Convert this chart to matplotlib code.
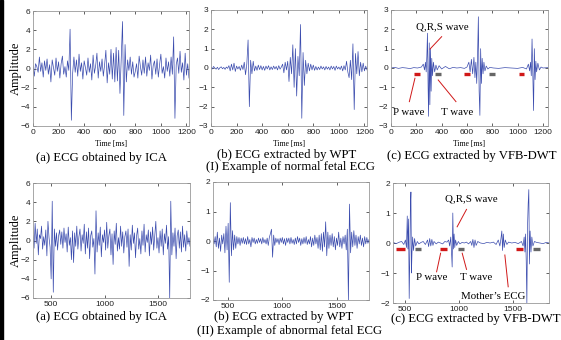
import numpy as np
import matplotlib
matplotlib.use("Agg")
import matplotlib.pyplot as plt
from matplotlib.patches import Rectangle

W, H = 561, 340

# ---- (I) normal fetal ECG ----
t_norm = np.arange(0, 1221, 10)
ica_norm = [
    0.3, -0.8, 0.5, 0.2, -0.4, 1.2, -0.3, 0.6, -0.9, 0.8,
    -0.2, 1.0, -0.6, 0.4, -1.4, 0.9, 0.1, -0.7, 1.1, -0.3,
    0.7, -1.0, 0.5, 1.3, -0.6, 0.2, -0.9, 0.8, -0.2, 4.1,
    -5.4, -0.5, 1.2, -0.4, 0.9, -0.8, 1.5, -0.3, 0.6, -1.1,
    0.8, 0.1, -0.7, 1.1, -0.4, 0.5, -1.2, 1.4, -0.5, 0.3,
    1.6, -1.0, 0.7, -0.3, 1.0, -0.8, 0.4, 1.9, -1.5, 0.6,
    -0.6, 2.0, -1.1, 1.6, -1.4, 2.2, -1.3, 1.9, -2.6, 1.0,
    4.9, -4.9, 2.5, -1.4, 0.9, -0.2, 1.2, -0.6, 0.7, -0.9,
    -0.3, 0.5, -1.0, 1.3, 0.2, -0.7, 0.9, -0.5, 1.2, -0.8,
    0.6, -0.2, 1.4, -1.1, 0.3, 0.8, -0.6, 1.0, -0.9, 0.4,
    1.5, -0.5, 0.2, -1.0, 1.1, -0.3, 0.7, -0.8, 1.2, -0.6,
    3.3, -5.2, 0.4, 1.1, -0.5, 1.8, -0.4, 0.6, -1.2, 1.6,
    -0.7, 0.5, -1.0,
]
wpt_norm = [
    0.05, -0.05, 0.08, 0.0, -0.06, 0.04, -0.08, 0.02, 0.06, -0.04,
    0.03, -0.07, 0.05, -0.02, 0.12, -0.15, 0.20, -0.10, 0.25, -0.18,
    0.10, -0.05, 0.08, -0.12, 0.15, -0.08, 0.30, -0.35, 0.20, 1.45,
    -2.0, 0.40, -0.30, 0.35, -0.15, 0.10, -0.12, 0.15, -0.08, 0.12,
    -0.10, 0.08, -0.12, 0.10, -0.05, 0.12, -0.10, 0.06, -0.08, 0.10,
    -0.05, 0.08, -0.10, 0.12, -0.06, 0.05, 0.20, -0.25, 0.30, -0.10,
    0.35, -0.70, 0.55, -0.30, 1.20, -1.00, 1.00, -1.45, 0.60, -0.40,
    2.25, -2.6, 0.8, -0.9, 0.4, -0.3, 0.25, -0.15, 0.2, -0.1,
    0.15, -0.12, 0.08, -0.10, 0.05, -0.08, 0.10, -0.05, 0.06, -0.1,
    0.08, -0.06, 0.05, -0.1, 0.1, -0.05, 0.08, -0.12, 0.1, -0.05,
    0.05, -0.08, 0.1, -0.15, 0.12, -0.1, 0.35, -0.2, -0.5, 0.4,
    -0.6, 1.25, -2.15, 0.75, -0.3, 0.85, -0.4, 0.3, -0.2, 0.25,
    -0.15, 0.1, -0.1,
]
t_vfb_norm = [
    0, 30, 60, 90, 120, 150, 180, 210, 240, 255, 265, 272, 278, 283, 288,
    293, 297, 302, 307, 312, 317, 322, 328, 335, 345, 355, 365, 380, 400,
    430, 460, 490, 520, 550, 580, 600, 615, 625, 635, 645, 655, 663, 670,
    677, 684, 690, 696, 702, 708, 714, 720, 727, 734, 742, 752, 765, 780,
    810, 850, 900, 950, 1000, 1040, 1070, 1085, 1095, 1102, 1108, 1114,
    1120, 1126, 1132, 1138, 1144, 1150, 1160, 1172, 1185, 1200, 1240,
]
vfb_norm = [
    0.0, 0.03, -0.02, 0.02, 0.0, -0.03, 0.02, 0.0, 0.05, 0.2, -0.1, 0.3,
    -0.2, 0.6, 1.8, -1.0, -2.5, 1.3, -1.9, 1.0, -1.2, 0.5, -0.4, 0.3, -0.2,
    0.15, -0.1, 0.12, -0.05, 0.08, -0.04, 0.03, 0.0, 0.02, -0.02, 0.05, 0.3,
    -0.2, 0.45, -0.3, 0.55, -0.5, 0.3, -0.8, 0.7, 2.65, -1.2, -2.45, 1.0,
    -0.8, 0.5, -0.3, 0.3, -0.15, 0.1, -0.05, 0.03, 0.0, -0.02, 0.02, 0.0,
    -0.02, 0.03, -0.05, 0.2, -0.15, 0.3, -0.4, 1.5, -0.3, -2.2, 1.0, -0.6,
    0.35, -0.2, 0.25, -0.1, 0.05, 0.0, 0.02,
]

# ---- (II) abnormal fetal ECG ----
t_ica_abn = np.arange(330, 1801, 10)
ica_abn = [
    0.5, -0.8, 1.8, -0.3, 1.2, -1.5, 0.6, 0.2, 1.5, -0.9,
    0.4, -0.5, 1.1, -1.6, 2.0, 0.3, -0.7, -4.0, 4.1, -5.4,
    1.2, -0.6, 0.8, -1.0, 0.5, 1.1, -0.4, 0.9, -0.8, 1.3,
    -0.2, 0.7, -1.2, 1.4, -0.5, 0.3, -2.0, 1.0, -2.3, 0.8,
    -0.6, 1.5, -0.9, 0.4, 1.2, -1.1, 0.6, -0.3, 1.7, -1.4,
    0.9, -0.8, 1.3, -1.9, 0.5, 1.0, -0.7, 0.2, -3.5, 3.1,
    -1.2, 0.8, -0.5, 1.4, -1.7, 0.6, -0.2, 1.1, -1.0, 1.9,
    -0.8, 0.5, 1.2, -1.5, 0.7, -2.5, 1.0, -0.4, 1.8, -1.1,
    0.3, -0.9, 1.5, -0.6, 0.9, -1.3, 0.4, 1.0, -0.7, 1.2,
    -2.7, 0.6, -1.0, 1.6, -0.3, 0.8, -1.8, 0.5, 1.3, -0.9,
    0.2, -1.4, 1.0, -0.5, 1.7, -1.2, 0.6, -0.2, 1.1, -1.6,
    0.9, -0.4, 1.4, -1.0, 0.5, 2.0, -0.8, 0.3, -1.3, 1.0,
    -0.6, 1.2, -1.5, 0.7, -0.3, 1.6, -0.9, 0.4, -6.0, 4.1,
    -1.5, 0.8, -0.6, 1.3, -1.9, 0.5, 1.1, -0.8, 0.9, -1.2,
    1.5, -0.7, 0.6, -1.1, 1.0, -0.4, 0.3, -0.6,
]
t_wpt_abn = np.arange(360, 1801, 10)
wpt_abn = [
    0.05, -0.1, 0.15, -0.2, 0.3, -0.25, 0.1, -0.35, 0.2, -0.1,
    0.25, -0.4, 0.5, -0.3, 0.6, -1.4, 1.3, -0.5, 0.35, -0.3,
    0.2, -0.25, 0.15, -0.1, 0.12, -0.15, 0.1, -0.08, 0.12, -0.1,
    0.08, -0.12, 0.15, -0.1, 0.05, -0.2, 0.12, -0.05, 0.1, -0.1,
    0.05, -0.08, 0.1, -0.05, 0.08, -0.1, 0.12, -0.06, 0.05, -0.1,
    0.1, -0.15, 0.12, 0.25, 0.4, -0.55, 0.2, -0.15, 0.1, -0.05,
    0.08, -0.12, 0.1, -0.05, 0.12, -0.1, 0.08, -0.15, 0.1, -0.05,
    0.1, -0.1, 0.12, -0.08, 0.05, -0.12, 0.1, -0.1, 0.15, -0.05,
    0.1, -0.15, 0.08, -0.1, 0.12, -0.08, 0.15, -0.12, 0.05, -0.1,
    0.15, -0.2, 0.1, -0.15, 0.2, -0.1, 0.12, -0.25, 0.2, -0.3,
    0.25, -0.35, 0.3, -0.2, 0.65, -0.5, 0.3, -0.25, 0.2, -0.15,
    0.25, -0.2, 0.15, -0.3, 0.1, -0.15, 0.3, -0.2, 0.1, -0.25,
    0.15, -0.1, 0.2, -0.3, 0.4, -2.0, 1.25, -0.4, 0.3, -0.2,
    0.35, -0.15, 0.2, -0.25, 0.15, -0.1, 0.2, -0.15, 0.1, -0.2,
    0.15, -0.1, 0.12, -0.08, 0.05,
]
t_vfb_abn = [
    390, 420, 450, 470, 490, 505, 515, 522, 528, 534, 540, 546, 551, 556,
    561, 566, 572, 580, 590, 600, 615, 630, 650, 670, 690, 710, 720, 730,
    740, 750, 760, 770, 790, 810, 830, 850, 870, 890, 905, 915, 925, 932,
    938, 944, 950, 956, 962, 970, 980, 995, 1010, 1030, 1050, 1070, 1090,
    1110, 1120, 1130, 1140, 1150, 1160, 1175, 1200, 1230, 1260, 1290, 1320,
    1345, 1365, 1380, 1390, 1398, 1405, 1412, 1420, 1430, 1445, 1460, 1490,
    1520, 1550, 1580, 1595, 1605, 1612, 1618, 1624, 1630, 1636, 1642, 1648,
    1654, 1660, 1668, 1676, 1686, 1700, 1720, 1750, 1780, 1810, 1835,
]
vfb_abn = [
    0.02, -0.02, 0.03, 0.05, -0.05, 0.1, -0.15, 0.9, -0.2, 0.8, -1.85, -0.4,
    1.2, 1.7, -1.0, -0.3, 0.2, -0.25, 0.15, -0.1, 0.05, -0.03, 0.02, 0.05,
    -0.05, 0.1, -0.12, 0.15, -0.1, 0.12, -0.08, 0.05, -0.03, 0.03, 0.0,
    -0.03, 0.05, 0.03, 0.1, -0.1, 0.2, -0.3, -0.8, 1.0, -0.2, 0.3, -0.15,
    0.1, -0.08, 0.05, -0.03, 0.02, 0.0, 0.03, -0.03, 0.05, -0.08, 0.12,
    -0.15, 0.1, -0.08, 0.05, 0.0, -0.02, 0.02, 0.0, 0.03, -0.05, 0.1, -0.1,
    0.15, 0.4, -0.25, 0.3, -0.15, 0.1, -0.05, 0.03, 0.0, 0.02, -0.02, 0.05,
    -0.1, 0.2, -0.3, 0.3, -0.6, -2.0, 0.5, 1.3, 1.78, -0.7, 0.4, -0.3, 0.2,
    -0.1, 0.05, 0.02, 0.0, -0.02, 0.02, 0.0,
]

# P / T wave marker centres (ms)
p_norm = [203, 597, 1031]
t_wave_norm = [373, 795]
p_abn = [460, 855, 1565]
t_wave_abn = [623, 1019, 1720]

LINE = "#3b4cae"
RED = "#d01818"
GREY = "#666666"
SERIF = "Liberation Serif"
SANS = "Liberation Sans"
CAP = 9.2


def px_axes(l, t, r, b):
    return fig.add_axes([l / W, 1 - b / H, (r - l) / W, (b - t) / H])


def matlab_ax(ax, xlim, ylim, xticks, yticks):
    ax.set_xlim(*xlim)
    ax.set_ylim(*ylim)
    ax.set_xticks(xticks)
    ax.set_yticks(yticks)
    ax.tick_params(direction="in", length=2, width=0.5, top=True, right=True,
                   labelsize=6, pad=2, colors="#222222")
    for lab in ax.get_xticklabels() + ax.get_yticklabels():
        lab.set_family(SANS)
    for s in ax.spines.values():
        s.set_color("#999999")
        s.set_linewidth(0.6)


def fig_text(x, y, s, size=CAP, **kw):
    fig.text(x / W, 1 - y / H, s, ha="center", va="center", fontsize=size,
             family=SERIF, **kw)


def marks(ax, centres, y, half, color):
    for c in centres:
        ax.plot([c - half, c + half], [y, y], color=color, lw=2.4,
                solid_capstyle="butt")


def leader(ax, p0, p1):
    ax.plot([p0[0], p1[0]], [p0[1], p1[1]], color=RED, lw=0.7)


def note(ax, x, y, s):
    ax.text(x, y, s, ha="center", va="center", fontsize=7.8, family=SERIF)


fig = plt.figure(figsize=(W / 100, H / 100), dpi=100)
fig.patch.set_facecolor("white")
fig.patches.append(Rectangle((0, 0), 3 / W, 1, transform=fig.transFigure,
                             color="black", zorder=0))

# top row
ax1 = px_axes(33, 11, 189, 126)
ax1.plot(t_norm, ica_norm, color=LINE, lw=0.5)
matlab_ax(ax1, (0, 1220), (-6, 6), range(0, 1201, 200), range(-6, 7, 2))

ax2 = px_axes(211, 10, 367, 126)
ax2.plot(t_norm, wpt_norm, color=LINE, lw=0.5)
matlab_ax(ax2, (0, 1220), (-3, 3), range(0, 1201, 200), range(-3, 4))

ax3 = px_axes(391, 10, 548, 126)
ax3.plot(t_vfb_norm, vfb_norm, color=LINE, lw=0.5)
matlab_ax(ax3, (0, 1240), (-3, 3), range(0, 1201, 200), range(-3, 4))
marks(ax3, p_norm, -0.33, 23, RED)
marks(ax3, t_wave_norm, -0.33, 23, GREY)
leader(ax3, (400, 1.62), (308, 0.98))
leader(ax3, (189, -0.53), (145, -1.74))
leader(ax3, (373, -0.62), (513, -1.74))
note(ax3, 402, 2.12, "Q,R,S wave")
note(ax3, 142, -2.28, "P wave")
note(ax3, 521, -2.28, "T wave")

for cx in (111, 289, 469):
    fig_text(cx, 144, "Time [ms]", size=5.5)

# bottom row
ax4 = px_axes(33, 183, 190, 298)
ax4.plot(t_ica_abn, ica_abn, color=LINE, lw=0.5)
matlab_ax(ax4, (330, 1800), (-6, 6), [500, 1000, 1500], range(-6, 7, 2))

ax5 = px_axes(213, 182, 369, 300)
ax5.plot(t_wpt_abn, wpt_abn, color=LINE, lw=0.5)
matlab_ax(ax5, (360, 1800), (-2, 2), [500, 1000, 1500], range(-2, 3))

ax6 = px_axes(393, 183, 549, 303)
ax6.plot(t_vfb_abn, vfb_abn, color=LINE, lw=0.5)
matlab_ax(ax6, (390, 1835), (-2, 2), [500, 1000, 1500], range(-2, 3))
marks(ax6, p_abn[:1], -0.2, 42, RED)
marks(ax6, p_abn[1:], -0.2, 32, RED)
marks(ax6, t_wave_abn, -0.2, 30, GREY)
leader(ax6, (1071, 1.12), (984, 0.54))
leader(ax6, (831, -0.34), (794, -0.96))
leader(ax6, (1031, -0.34), (1071, -0.88))
leader(ax6, (1426, -0.4), (1457, -1.46))
note(ax6, 1120, 1.46, "Q,R,S wave")
note(ax6, 750, -1.14, "P wave")
note(ax6, 1158, -1.14, "T wave")
note(ax6, 1321, -1.77, "Mother\u2019s ECG")

for ax in (ax1, ax4):
    ax.set_ylabel("Amplitude", fontsize=9, family=SERIF, labelpad=1)
    ax.yaxis.set_label_coords(-11 / 156, 0.5)

# captions
fig_text(101, 158, "(a) ECG obtained by ICA")
fig_text(287, 155, "(b) ECG extracted by WPT")
fig_text(472, 156, "(c) ECG extracted by VFB-DWT")
fig_text(290, 167, "(I) Example of normal fetal ECG")
fig_text(102, 317, "(a) ECG obtained by ICA")
fig_text(284, 317, "(b) ECG extracted by WPT")
fig_text(476, 319, "(c) ECG extracted by VFB-DWT")
fig_text(290, 331, "(II) Example of abnormal fetal ECG")

fig.savefig("out.png", dpi=100)
